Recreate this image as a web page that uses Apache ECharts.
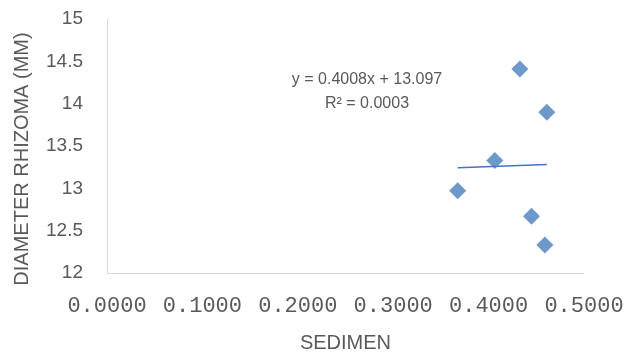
<!DOCTYPE html>
<html>
<head>
<meta charset="utf-8">
<script src="https://cdn.jsdelivr.net/npm/echarts@6/dist/echarts.min.js"></script>
<style>html,body{margin:0;padding:0;background:#fff}#c{width:635px;height:354px}</style>
</head>
<body>
<div id="c"></div>
<script>
var sedimen = [0.3676, 0.4065, 0.4328, 0.4610, 0.4450, 0.4590];
var diameter = [12.97, 13.33, 14.41, 13.90, 12.67, 12.33];
var slope = 0.4008;
var intercept = 13.097;
var eqText = 'y = 0.4008x + 13.097';
var r2Text = 'R² = 0.0003';
var xTicks = [0, 0.1, 0.2, 0.3, 0.4, 0.5];
var yTicks = [12, 12.5, 13, 13.5, 14, 14.5, 15];

var points = sedimen.map(function (x, i) { return [x, diameter[i]]; });
var xmin = Math.min.apply(null, sedimen), xmax = Math.max.apply(null, sedimen);
var trend = [[xmin, slope * xmin + intercept], [xmax, slope * xmax + intercept]];

var chart = echarts.init(document.getElementById('c'));
var grey = '#595959';
chart.setOption({
  animation: false,
  grid: { left: 107, right: 51, top: 19, bottom: 81, containLabel: false, outerBoundsMode: 'none' },
  xAxis: {
    type: 'value', min: xTicks[0], max: xTicks[xTicks.length - 1], interval: 0.1,
    name: 'SEDIMEN', nameLocation: 'middle', nameGap: 60,
    nameTextStyle: { color: grey, fontSize: 20, fontFamily: 'Liberation Sans' },
    axisLine: { show: true, lineStyle: { color: '#d9d9d9', width: 1 } },
    axisTick: { show: false },
    splitLine: { show: false },
    axisLabel: { color: grey, fontSize: 22, fontFamily: 'Liberation Mono', margin: 22,
      formatter: function (v) { return v.toFixed(4); } }
  },
  yAxis: {
    type: 'value', min: yTicks[0], max: yTicks[yTicks.length - 1], interval: 0.5,
    name: 'DIAMETER RHIZOMA (MM)', nameLocation: 'middle', nameGap: 75,
    nameTextStyle: { color: grey, fontSize: 20, fontFamily: 'Liberation Sans', padding: [0, 26, 0, 0] },
    axisLine: { show: true, lineStyle: { color: '#d9d9d9', width: 1 } },
    axisTick: { show: false },
    splitLine: { show: false },
    axisLabel: { color: grey, fontSize: 19, fontFamily: 'Liberation Sans', margin: 24 }
  },
  series: [
    { type: 'scatter', data: points, symbol: 'diamond', symbolSize: 17,
      itemStyle: { color: '#4a7ebb' }, z: 3 },
    { type: 'line', data: trend, showSymbol: false, symbol: 'none',
      lineStyle: { color: '#4472c4', width: 1.5 }, z: 2 }
  ],
  graphic: [
    { type: 'text', x: 367, y: 80, style: { text: eqText, fill: grey, fontSize: 16,
      fontFamily: 'Liberation Sans', align: 'center', verticalAlign: 'middle' } },
    { type: 'text', x: 367, y: 104, style: { text: r2Text, fill: grey, fontSize: 16,
      fontFamily: 'Liberation Sans', align: 'center', verticalAlign: 'middle' } }
  ]
});
</script>
</body>
</html>
